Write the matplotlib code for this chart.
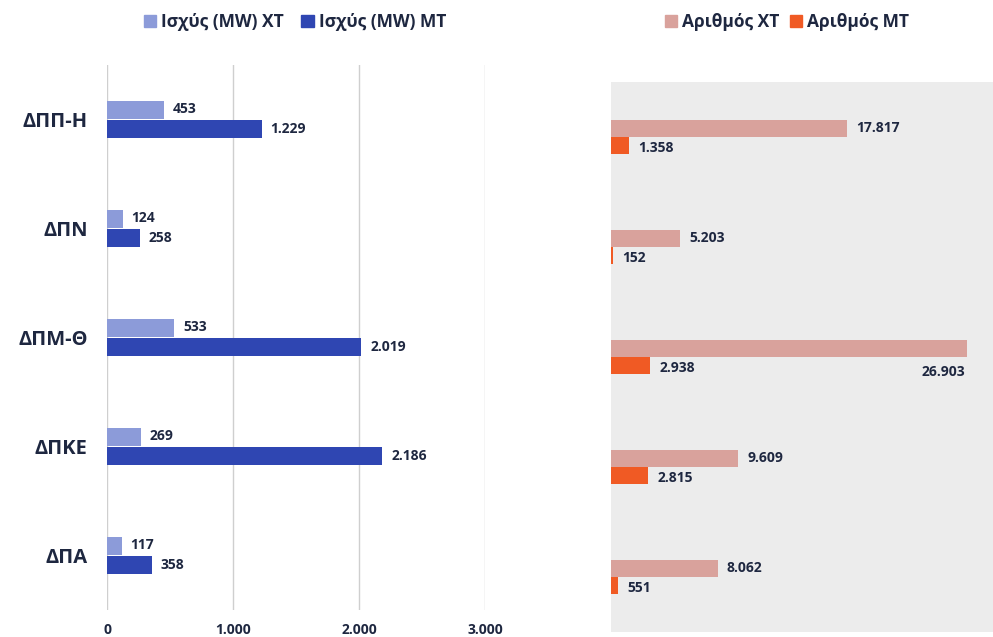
import matplotlib
matplotlib.use("Agg")
import matplotlib.pyplot as plt
from matplotlib.patches import Patch

plt.rcParams['font.family'] = ['Open Sans', 'DejaVu Sans']

categories = ["ΔΠΠ-Η", "ΔΠΝ", "ΔΠΜ-Θ", "ΔΠΚΕ", "ΔΠΑ"]
power_xt = [453, 124, 533, 269, 117]
power_mt = [1229, 258, 2019, 2186, 358]
count_xt = [17817, 5203, 26903, 9609, 8062]
count_mt = [1358, 152, 2938, 2815, 551]
power_ticks = [0, 1000, 2000, 3000]


def fmt(v):
    return f"{v:,}".replace(",", ".")


C_PXT = "#8c9bd9"
C_PMT = "#2f46b2"
C_CXT = "#d9a29c"
C_CMT = "#f05a24"
TXT = "#1e2740"
WT = "bold"

W, H = 993, 637
fig = plt.figure(figsize=(W / 100, H / 100), dpi=100)

# left panel: installed power
axL = fig.add_axes([107 / W, 1 - 610 / H, (485 - 107) / W, (610 - 65) / H])
y = list(range(len(categories)))
hL = 0.17
yx = [i - 0.088 for i in y]
ym = [i + 0.088 for i in y]
axL.barh(yx, power_xt, height=hL, color=C_PXT)
axL.barh(ym, power_mt, height=hL, color=C_PMT)
for yy, v in zip(yx, power_xt):
    axL.text(v + 70, yy - 0.01, fmt(v), va="center", ha="left", fontsize=10,
             fontweight=WT, color=TXT)
for yy, v in zip(ym, power_mt):
    axL.text(v + 70, yy, fmt(v), va="center", ha="left", fontsize=10,
             fontweight=WT, color=TXT)
axL.set_xlim(0, 3000)
axL.set_ylim(4.5, -0.5)
axL.set_xticks(power_ticks)
axL.set_xticklabels([fmt(t) for t in power_ticks])
axL.set_yticks(y)
axL.set_yticklabels(categories)
axL.tick_params(axis="both", length=0, colors=TXT)
axL.tick_params(axis="x", pad=9, labelsize=10)
axL.tick_params(axis="y", pad=14, labelsize=14.5)
for lab in axL.get_xticklabels() + axL.get_yticklabels():
    lab.set_fontweight(WT)
axL.xaxis.grid(True, color="#cfcfcf", linewidth=1)
axL.set_axisbelow(True)
for s in axL.spines.values():
    s.set_visible(False)

fig.legend(handles=[Patch(color=C_PXT, label="Ισχύς (MW) ΧΤ"),
                    Patch(color=C_PMT, label="Ισχύς (MW) ΜΤ")],
           loc="center", bbox_to_anchor=(295 / W, 1 - 22 / H), ncol=2,
           frameon=False, handlelength=0.7, handleheight=0.7,
           handletextpad=0.3, columnspacing=1.0,
           prop={"size": 12.5, "weight": WT}, labelcolor=TXT)

# right panel: number of units
axR = fig.add_axes([611 / W, 1 - 632 / H, (W - 611) / W, (632 - 82) / H])
axR.set_facecolor("#ececec")
hR = 0.15
ryx = [i - 0.078 for i in y]
rym = [i + 0.078 for i in y]
axR.barh(ryx, count_xt, height=hR, color=C_CXT)
axR.barh(rym, count_mt, height=hR, color=C_CMT)
for i, (yy, v) in enumerate(zip(ryx, count_xt)):
    if v == max(count_xt):
        axR.text(v - 100, rym[i] + 0.06, fmt(v), va="center", ha="right",
                 fontsize=10, fontweight=WT, color=TXT)
    else:
        axR.text(v + 700, yy, fmt(v), va="center", ha="left", fontsize=10,
                 fontweight=WT, color=TXT)
for yy, v in zip(rym, count_mt):
    axR.text(v + 700, yy + 0.02, fmt(v), va="center", ha="left", fontsize=10,
             fontweight=WT, color=TXT)
axR.set_xlim(0, 28870)
axR.set_ylim(4.5, -0.5)
axR.set_xticks([])
axR.set_yticks([])
for s in axR.spines.values():
    s.set_visible(False)

fig.legend(handles=[Patch(color=C_CXT, label="Αριθμός ΧΤ"),
                    Patch(color=C_CMT, label="Αριθμός ΜΤ")],
           loc="center", bbox_to_anchor=(787 / W, 1 - 22 / H), ncol=2,
           frameon=False, handlelength=0.7, handleheight=0.7,
           handletextpad=0.3, columnspacing=0.6,
           prop={"size": 12.5, "weight": WT}, labelcolor=TXT)

fig.savefig("out.png", dpi=100, facecolor="white")
